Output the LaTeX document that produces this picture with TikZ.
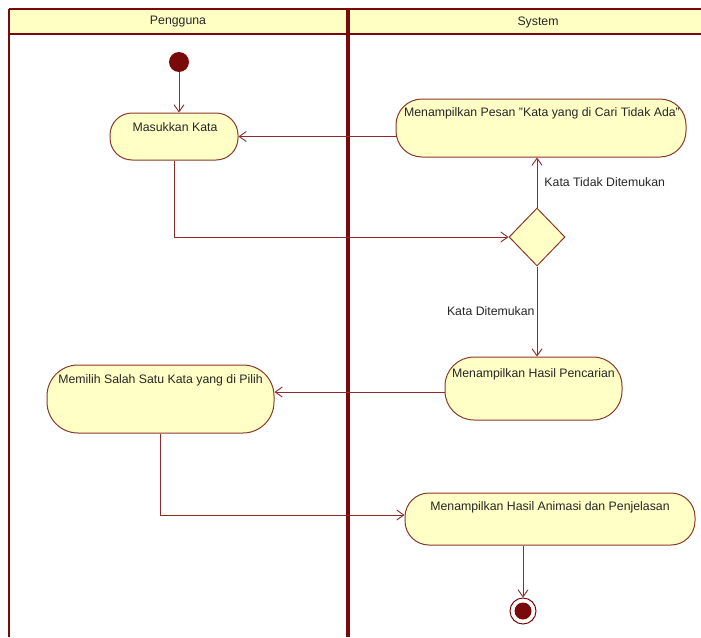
\documentclass[tikz,border=0pt]{standalone}
\usepackage{fontspec}
\setmainfont{Liberation Sans}
\usetikzlibrary{arrows.meta,shapes.geometric}
\definecolor{lane}{HTML}{7A0A0A}
\definecolor{edgecol}{HTML}{8E2A2A}
\definecolor{boxline}{HTML}{8A3A2A}
\definecolor{boxfill}{HTML}{FFFFC6}
\definecolor{headfill}{HTML}{FFFFC4}
\tikzset{
  every node/.style={font=\fontsize{12.3}{14}\selectfont},
  act/.style={draw=boxline, fill=boxfill, line width=1pt, inner sep=0pt},
  txt/.style={inner sep=0pt, text=black!85},
  flow/.style={draw=edgecol, line width=0.9pt, -{Straight Barb[length=7pt,width=10pt,line width=0.9pt]}},
  decision/.style={diamond, draw=boxline, fill=boxfill, line width=1pt, minimum width=56pt, minimum height=58pt, inner sep=0pt},
}
\begin{document}
\begin{tikzpicture}[x=1pt, y=-1pt]
\useasboundingbox (0,0) rectangle (701,637);
% swimlane frame
\fill[headfill] (9,9) rectangle (701,34);
\draw[lane, line width=2pt] (701,9) -- (9,9);
\draw[lane, line width=1.6pt] (9,9) -- (9,637);
\draw[lane, line width=1.6pt] (9,34) -- (701,34);
\draw[lane, line width=4pt] (348,9) -- (348,637);
\node[txt] (hdA) at (178,22) {Pengguna};
\node[txt] (hdB) at (538,22) {System};

% start and end
\node[circle, fill=lane, minimum size=20pt, inner sep=0pt] (st) at (179,62) {};
\node[circle, draw=lane, line width=1pt, fill=white, minimum size=26pt, inner sep=0pt] (fin) at (523,611) {};
\node[circle, fill=lane, minimum size=17pt, inner sep=0pt] (finc) at (fin) {};

% actions
\node[act, minimum width=128pt, minimum height=47pt, rounded corners=22pt] (mk) at (174,136.5) {};
\node[txt] (mkT) at (175,127) {Masukkan Kata};
\node[act, minimum width=290pt, minimum height=58pt, rounded corners=26pt] (ps) at (541,128) {};
\node[txt] (psT) at (542,113) {Menampilkan Pesan "Kata yang di Cari Tidak Ada"};
\node[decision] (dec) at (537,237) {};
\node[act, minimum width=177pt, minimum height=63pt, rounded corners=29pt] (hp) at (533.5,388.5) {};
\node[txt] (hpT) at (533.5,374) {Menampilkan Hasil Pencarian};
\node[act, minimum width=227pt, minimum height=68pt, rounded corners=31pt] (pl) at (160.5,399) {};
\node[txt] (plT) at (160.5,380) {Memilih Salah Satu Kata yang di Pilih};
\node[act, minimum width=290pt, minimum height=52pt, rounded corners=24pt] (an) at (550,519) {};
\node[txt] (anT) at (550,507) {Menampilkan Hasil Animasi dan Penjelasan};

% flows
\draw[flow] (st.south) -- (st.south |- mk.north);
\draw[flow] (ps.west |- mk.east) -- (mk.east);
\draw[flow] (mk.south) |- (dec.west);
\draw[flow] (dec.north) -- (dec.north |- ps.south)
  node[pos=0.5, right=7pt, txt] (lbNo) {Kata Tidak Ditemukan};
\draw[flow] (dec.south) -- (dec.south |- hp.north)
  node[pos=0.5, left=2pt, txt] (lbYes) {Kata Ditemukan};
\draw[flow] (hp.west |- 0,392) -- (pl.east |- 0,392);
\draw[flow] (pl.south) |- ([yshift=4pt]an.west);
\draw[flow] (fin.north |- an.south) -- (fin.north);
\end{tikzpicture}
\end{document}
